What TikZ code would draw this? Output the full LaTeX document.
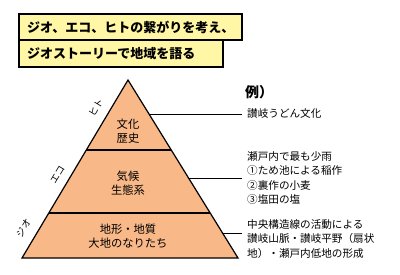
\documentclass[tikz,border=0pt]{standalone}
\usepackage{fontspec}
\setmainfont{Noto Sans CJK JP}
\usetikzlibrary{calc,shadows}
\definecolor{pyr}{HTML}{F8B888}
\definecolor{ttl}{HTML}{FFF7A6}
\begin{document}
\begin{tikzpicture}[x=1pt,y=-1pt,
  titlebox/.style={draw=black,line width=1.2pt,fill=ttl,drop shadow={shadow xshift=1.2pt,shadow yshift=-1.2pt,fill=black!45,opacity=1}},
  lay/.style={font=\fontsize{11.3}{14.5}\selectfont,align=center,inner sep=0pt},
  side/.style={font=\fontsize{9.5}{10}\selectfont,inner sep=0pt,rotate=59},
  ex/.style={font=\fontsize{10.6}{14.6}\selectfont,align=left,anchor=north west,inner sep=0pt},
  conn/.style={line width=1pt}]
\useasboundingbox (0,0) rectangle (400,274);
% title boxes
\draw[titlebox] (19,14) rectangle (242,40);
\draw[titlebox] (19,40) rectangle (223,67);
\node[font=\fontsize{13}{13}\selectfont\bfseries,anchor=west,inner sep=0pt] (t1) at (27,27) {ジオ、エコ、ヒトの繋がりを考え、};
\node[font=\fontsize{13}{13}\selectfont\bfseries,anchor=west,inner sep=0pt] (t2) at (27,53.5) {ジオストーリーで地域を語る};
% pyramid
\coordinate (apex) at (128,80);
\coordinate (bl) at (22,258);
\coordinate (br) at (238,258);
\fill[pyr] (apex) -- (bl) -- (br) -- cycle;
\draw[line width=1.2pt] (86,150) -- (171,150);
\draw[line width=1.2pt] (49,213) -- (210,213);
\draw[line width=1.2pt,line join=miter] (bl) -- (apex) -- (br) -- cycle;
\node[lay] (l1) at (128,131) {文化\\歴史};
\node[lay] (l2) at (128,183) {気候\\生態系};
\node[lay] (l3) at (128,236) {地形・地質\\大地のなりたち};
\node[side] (s1) at (96,108) {ヒト};
\node[side] (s2) at (57.5,175) {エコ};
\node[side] (s3) at (23.5,228) {ジオ};
% examples
\node[font=\fontsize{14}{14}\selectfont\bfseries,anchor=west,inner sep=0pt] (rei) at (245,92) {例）};
\node[ex] (e1) at (247,108) {讃岐うどん文化};
\node[ex] (e2) at (247,151) {瀬戸内で最も少雨\\①ため池による稲作\\②裏作の小麦\\③塩田の塩};
\node[ex] (e3) at (247,219) {中央構造線の活動による\\讃岐山脈・讃岐平野（扇状\\地）・瀬戸内低地の形成};
\coordinate (c1) at (242,114);
\coordinate (c2) at (242,178);
\coordinate (c3) at (242,233);
\draw[conn] (149.5,114) -- (c1);
\draw[conn] (187.5,178) -- (c2);
\draw[conn] (222.5,233) -- (c3);
\end{tikzpicture}
\end{document}
